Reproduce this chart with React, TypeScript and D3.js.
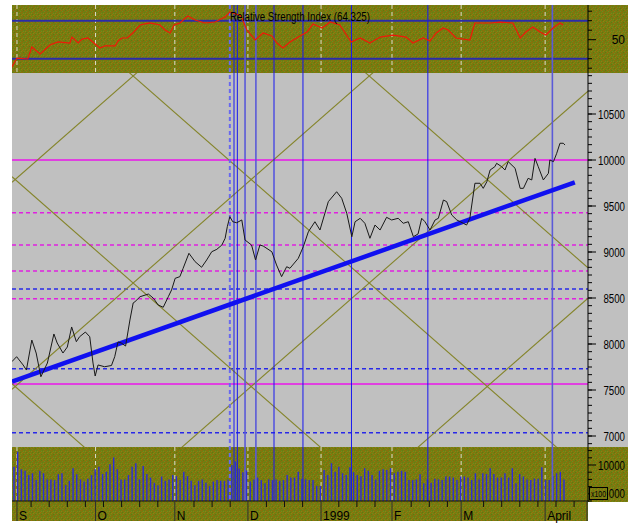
import React from 'react';
import * as d3 from 'd3';

// ---- data ----
const priceDay = [-0.3,1.0,2.8,3.7,5.2,6.4,7.7,9.5,11.3,12.2,13.8,15.0,16.2,17.5,18.4,20.0,21.2,22.1,22.7,23.5,25.3,27.2,28.1,29.0,29.9,31.1,32.3,33.2,33.7,35.1,37.4,38.8,40.1,41.5,42.9,43.8,44.8,46.1,47.0,48.6,50.3,52.1,53.5,54.9,56.3,57.7,58.6,59.2,59.9,60.7,61.8,63.2,64.1,65.9,67.0,68.2,69.1,71.5,72.8,74.2,75.6,76.5,78.8,80.2,81.6,83.4,84.8,87.1,89.4,90.8,92.2,93.6,94.5,95.9,97.2,98.6,100.0,101.4,103.2,104.6,106.4,107.8,109.2,110.6,111.9,112.9,113.8,115.2,116.6,117.5,118.9,119.8,121.2,122.6,124.4,125.3,126.2,127.6,129.0,129.9,130.9,131.8,133.1,133.6,135.0,135.9,136.8,138.7,140.1,141.0,142.3,143.3,144.2,145.1,146.5,147.9,148.3,149.3,150.2,151.1,152.0,152.5];
const priceVal = [7808,7862,7772,7717,8043,7902,7644,7793,8109,8011,7902,7967,8185,8025,8079,8130,8079,7793,7652,7772,7753,7766,7862,8022,8011,7978,8261,8446,8460,8514,8543,8497,8424,8399,8514,8587,8714,8732,8823,8986,8895,8834,8913,9003,9029,9076,9149,9275,9384,9329,9318,9348,9130,9076,8913,9076,9065,9003,8859,8732,8840,8823,8931,9058,9221,9329,9239,9547,9655,9584,9421,9166,9329,9366,9312,9149,9293,9239,9377,9348,9366,9312,9329,9166,9196,9366,9329,9239,9348,9366,9565,9547,9402,9348,9312,9293,9366,9747,9747,9692,9764,9891,9927,9964,9927,9891,9982,9910,9692,9692,9801,9783,10018,9927,9783,9855,10000,9982,10073,10182,10182,10163];

const rsiDay = [-0.3,1.1,4.1,5.2,7.5,10.2,12.4,15.7,16.3,18.0,19.1,20.7,22.7,24.0,25.4,28.2,29.0,30.1,31.5,33.1,35.1,37.8,40.6,42.0,43.4,44.5,46.1,48.3,50.3,53.0,55.8,58.6,59.9,61.6,63.0,64.6,66.9,69.1,71.5,72.9,74.6,76.5,79.3,81.2,82.9,85.4,87.6,90.3,93.4,95.9,98.6,101.4,105.0,108.6,110.5,113.3,115.2,116.9,118.8,120.2,122.4,126.2,127.6,131.8,134.5,138.1,140.1,141.7,143.6,145.6,147.2,149.2,151.1,152.0];
const rsiVal = [21.3,30.7,29.7,42.3,35.0,44.4,47.6,46.5,52.8,46.5,50.7,51.8,45.5,41.3,43.4,43.4,48.6,51.8,51.8,57.1,65.5,67.6,65.5,60.2,57.1,65.5,67.6,74.9,70.7,67.6,68.6,73.9,79.2,77.0,74.9,60.2,49.7,57.1,53.9,46.5,41.3,47.6,53.9,58.1,66.5,62.3,68.6,65.5,47.6,51.8,46.5,52.8,54.9,52.8,46.5,51.8,48.6,57.1,62.3,60.2,51.8,49.7,67.6,67.6,68.6,67.6,51.8,58.1,63.4,58.1,54.9,62.3,67.6,65.5];

const volume = [9500,13700,8800,8400,7200,7700,5800,8400,7700,6000,
  6000,5800,7400,7700,4400,5600,9100,7400,6000,5400,
  6200,7200,8800,9500,7500,8100,10200,12100,8800,6000,
  6000,7200,9500,10500,6000,9700,7500,6500,5100,4400,
  6800,5600,6000,7200,6900,5800,8100,6900,5600,4400,
  5600,6000,5100,4200,5400,5800,5600,5600,6000,10000,
  11000,9000,8000,8500,5400,6000,6500,5800,4900,6000,
  5800,6000,5600,5800,7200,6500,6500,8100,6200,6000,
  5800,5800,4200,4200,
  8600,7200,10500,8100,9500,7700,7200,9400,8000,7200,
  6900,9100,8400,7200,6000,8400,8800,8600,9100,7700,
  8100,8400,8100,5800,5800,6000,7400,4900,6000,
  5100,6200,6000,5800,6800,6800,6500,5800,6800,6800,
  6500,5800,7700,6000,7700,7500,9100,7500,6500,6500,
  7700,6500,9100,4900,7500,6800,6000,5800,6200,6200,
  9400,5800,5800,7000,7700,8100,6000];

const trendDay = [-0.28, 155.2];
const trendVal = [7590, 9758];

const gannDown = [14308, 12058, 9808, 7558];
const gannUp = [9768, 7518, 5268, 3018];
const gannSlope = 34.5;

const levelsSolidMagenta = [10000, 7565];
const levelsDashMagenta = [9427, 9076, 8793, 8493];
const levelsDashBlue = [8598, 7730, 7035];
const rsiBands = [70, 30];

const priceTickLabels = [7000, 7500, 8000, 8500, 9000, 9500, 10000, 10500];
const rsiTicks = [20, 30, 40, 50, 60, 70, 80];
const rsiTickLabels = [50];
const volTickLabels = [10000];
const volLowTick = 2000;
const volLowLabel = '000';
const volUnitLabel = 'x100';

const monthLabels = ['S', 'O', 'N', 'D', '1999', 'F', 'M', 'April'];
const monthDays = [1.1, 22.8, 44.7, 64.9, 85.1, 104.7, 123.8, 147.0];

const cycleSolid = [61.05, 61.97, 72.1, 80.1, 93.5, 114.6];
const cycleLight = [64.1, 67.1, 149.0];
const cycleDashed = [59.9];

const rsiTitle = 'Relative Strength Index (64.325)';

const FONT = '"Liberation Sans Narrow", "Liberation Sans", Arial, sans-serif';

// texture dots for the olive panels (tile pixels)
const oliveDots: [number, number, string][] = [
  [0, 0, '#5b8418'], [3, 0, '#94680c'], [5, 1, '#6c9020'], [1, 1, '#86841a'],
  [2, 2, '#5f7a10'], [4, 2, '#9a720e'], [0, 3, '#708c1c'], [3, 3, '#888814'],
  [5, 4, '#5a7c12'], [1, 4, '#9c6a10'], [2, 5, '#6a8e1e'], [4, 5, '#7e7010'],
];

export default function App() {
  const L = 12, R = 588, RR = 628;
  const rsiTop = 5, rsiBot = 73, mainBot = 447, volBot = 501, rowBot = 521;

  const x = d3.scaleLinear().domain([-0.276, 158.84]).range([L, R]);
  const yP = d3.scaleLinear().domain([7000, 10500]).range([436, 114]);
  const yR = d3.scaleLinear().domain([30, 70]).range([58.7, 20.7]);
  const yV = d3.scaleLinear().domain([0, 10000]).range([volBot, 465]);
  const xv = d3.scalePoint<number>().domain(d3.range(volume.length)).range([14, 564]);

  const [d0, d1] = x.domain();

  const priceLine = d3.line<number>().x((_, i) => x(priceDay[i])).y(d => yP(d))(priceVal) || '';
  const rsiLine = d3.line<number>().x((_, i) => x(rsiDay[i])).y(d => yR(d))(rsiVal) || '';
  const trendLine = d3.line<number>().x((_, i) => x(trendDay[i])).y(d => yP(d))(trendVal) || '';

  const [pMin, pMax] = [yP.invert(mainBot), yP.invert(rsiBot)];
  const minorPrice = d3.range(-3, 50).map(k => 7000 + (k * 500) / 6).filter(v => v >= pMin && v <= pMax);
  const volTicks = d3.range(0, 15000, 2000);
  const weekTicks = d3.range(5, 158, 5).filter(d => !monthDays.some(m => Math.abs(m - d) < 2));

  const vline = (d: number, key: string, stroke: string, w: number, dash?: string) => (
    <line key={key} x1={x(d)} x2={x(d)} y1={rsiTop} y2={volBot} stroke={stroke} strokeWidth={w} strokeDasharray={dash} />
  );

  return (
    <svg width={633} height={523} style={{ position: 'absolute', left: 0, top: 0, display: 'block' }} fontFamily={FONT}>
      <defs>
        <pattern id="olive" width="6" height="6" patternUnits="userSpaceOnUse">
          <rect width="6" height="6" fill="#7a7a0e" />
          {oliveDots.map(([px, py, c], i) => (
            <rect key={i} x={px} y={py} width="1" height="1" fill={c} />
          ))}
        </pattern>
        <clipPath id="mainClip">
          <rect x={L} y={rsiBot} width={R - L} height={mainBot - rsiBot} />
        </clipPath>
        <clipPath id="rsiClip">
          <rect x={L} y={rsiTop} width={R - L} height={rsiBot - rsiTop} />
        </clipPath>
      </defs>

      {/* backgrounds */}
      <rect x={0} y={0} width={633} height={523} fill="#ffffff" />
      <rect x={L} y={rsiTop} width={RR - L} height={rsiBot - rsiTop} fill="url(#olive)" />
      <rect x={L} y={rsiBot} width={RR - L} height={mainBot - rsiBot} fill="#c0c0c0" />
      <rect x={L} y={mainBot} width={RR - L} height={volBot + 1 - mainBot} fill="url(#olive)" />
      <rect x={L} y={volBot} width={R - L} height={rowBot - volBot} fill="url(#olive)" />

      {/* month dashed grid in RSI and volume panels */}
      {monthDays.map((d, i) => (
        <g key={'mg' + i}>
          <line x1={x(d)} x2={x(d)} y1={rsiTop} y2={rsiBot} stroke="#dcdcc8" strokeWidth={1} strokeDasharray="4,3" />
          <line x1={x(d)} x2={x(d)} y1={mainBot} y2={volBot} stroke="#dcdcc8" strokeWidth={1} strokeDasharray="4,3" />
        </g>
      ))}

      {/* RSI bands */}
      {rsiBands.map((v, i) => (
        <line key={'rb' + i} x1={L} x2={R} y1={yR(v)} y2={yR(v)} stroke="#2c2ca8" strokeWidth={2} />
      ))}

      {/* main panel horizontal levels and gann grid */}
      <g clipPath="url(#mainClip)">
        {levelsDashMagenta.map((v, i) => (
          <line key={'dm' + i} x1={L} x2={R} y1={yP(v)} y2={yP(v)} stroke="#e020e0" strokeWidth={1.5} strokeDasharray="4,3" />
        ))}
        {levelsDashBlue.map((v, i) => (
          <line key={'db' + i} x1={L} x2={R} y1={yP(v)} y2={yP(v)} stroke="#2828e8" strokeWidth={1.5} strokeDasharray="4,3" />
        ))}
        {levelsSolidMagenta.map((v, i) => (
          <line key={'sm' + i} x1={L} x2={R} y1={yP(v)} y2={yP(v)} stroke="#e040e0" strokeWidth={2} />
        ))}
        {gannDown.map((a, i) => (
          <line key={'gd' + i} x1={x(d0)} x2={x(d1)} y1={yP(a - gannSlope * d0)} y2={yP(a - gannSlope * d1)} stroke="#84842a" strokeWidth={1.1} />
        ))}
        {gannUp.map((b, i) => (
          <line key={'gu' + i} x1={x(d0)} x2={x(d1)} y1={yP(b + gannSlope * d0)} y2={yP(b + gannSlope * d1)} stroke="#84842a" strokeWidth={1.1} />
        ))}
      </g>

      {/* volume bars */}
      {volume.map((v, i) => (
        <line key={'v' + i} x1={xv(i)} x2={xv(i)} y1={yV(0)} y2={yV(v)} stroke="#2c2cd8" strokeWidth={1.4} />
      ))}

      {/* cycle vertical lines */}
      {cycleSolid.map((d, i) => vline(d, 'cs' + i, '#1818f0', 1))}
      {cycleLight.map((d, i) => vline(d, 'cl' + i, '#5a5ad8', 1.6))}
      {cycleDashed.map((d, i) => vline(d, 'cd' + i, '#6868f0', 2, '4,3'))}

      {/* RSI line */}
      <path d={rsiLine} fill="none" stroke="#f01808" strokeWidth={1.2} clipPath="url(#rsiClip)" />

      {/* price and trend */}
      <g clipPath="url(#mainClip)">
        <path d={trendLine} fill="none" stroke="#1010f0" strokeWidth={4.5} />
        <path d={priceLine} fill="none" stroke="#181818" strokeWidth={1} />
      </g>

      {/* RSI title */}
      <text x={230} y={20.5} fontSize={12.5} textLength={140} lengthAdjust="spacingAndGlyphs" fill="#000">{rsiTitle}</text>

      {/* x axis */}
      <line x1={L} x2={R} y1={volBot} y2={volBot} stroke="#101010" strokeWidth={1.2} />
      {weekTicks.map((d, i) => (
        <line key={'wt' + i} x1={x(d)} x2={x(d)} y1={volBot} y2={volBot + 6} stroke="#101010" strokeWidth={1} />
      ))}
      {monthDays.map((d, i) => (
        <g key={'ml' + i}>
          <line x1={x(d)} x2={x(d)} y1={volBot} y2={rowBot} stroke="#303030" strokeWidth={1} />
          <text x={x(d) + 2} y={519.5} fontSize={12} fill="#000">{monthLabels[i]}</text>
        </g>
      ))}

      {/* right axis */}
      <line x1={R} x2={R} y1={rsiTop} y2={volBot + 1} stroke="#000" strokeWidth={1} />
      <line x1={R - 1} x2={R - 1} y1={volBot} y2={rowBot} stroke="#303030" strokeWidth={1} />
      {rsiTicks.map((v, i) => (
        <line key={'rt' + i} x1={R} x2={R + (rsiTickLabels.includes(v) ? 8 : 4)} y1={yR(v)} y2={yR(v)} stroke="#000" />
      ))}
      {rsiTickLabels.map((v, i) => (
        <text key={'rl' + i} x={625} y={yR(v) + 4.5} fontSize={12} textAnchor="end" fill="#000">{v}</text>
      ))}
      {minorPrice.map((v, i) => (
        <line key={'pm' + i} x1={R} x2={R + 4} y1={yP(v)} y2={yP(v)} stroke="#000" />
      ))}
      {priceTickLabels.map((v, i) => (
        <g key={'pl' + i}>
          <line x1={R} x2={R + 8} y1={yP(v)} y2={yP(v)} stroke="#000" />
          <text x={625} y={yP(v) + 4.5} fontSize={12} textAnchor="end" fill="#000" textLength={String(v).length * 5.4} lengthAdjust="spacingAndGlyphs">{v}</text>
        </g>
      ))}
      {volTicks.map((v, i) => (
        <line key={'vt' + i} x1={R} x2={R + (volTickLabels.includes(v) ? 8 : 4)} y1={yV(v)} y2={yV(v)} stroke="#000" />
      ))}
      {volTickLabels.map((v, i) => (
        <text key={'vl' + i} x={625} y={yV(v) + 4.5} fontSize={12} textAnchor="end" fill="#000" textLength={String(v).length * 5.4} lengthAdjust="spacingAndGlyphs">{v}</text>
      ))}
      <text x={625} y={yV(volLowTick) + 4.5} fontSize={12} textAnchor="end" fill="#000" textLength={16.2} lengthAdjust="spacingAndGlyphs">{volLowLabel}</text>
      <rect x={589.5} y={487.5} width={18} height={12} fill="url(#olive)" stroke="#000" strokeWidth={1} />
      <text x={598.5} y={497} fontSize={9} textAnchor="middle" fill="#000" textLength={15} lengthAdjust="spacingAndGlyphs">{volUnitLabel}</text>
    </svg>
  );
}
